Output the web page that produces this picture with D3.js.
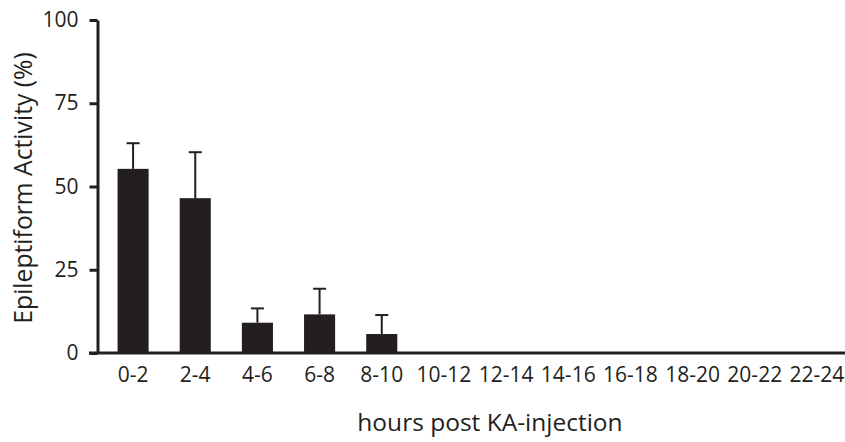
<!DOCTYPE html>
<html>
<head>
<meta charset="utf-8">
<script src="https://cdn.jsdelivr.net/npm/d3@7"></script>
<style>
  html, body { margin: 0; padding: 0; background: #fff; }
  svg { display: block; }
  text { font-family: "Open Sans", sans-serif; fill: #231f20; }
</style>
</head>
<body>
<svg id="chart" width="845" height="442"></svg>
<script>
// Time windows after KA injection (hours)
const categories = ["0-2", "2-4", "4-6", "6-8", "8-10", "10-12", "12-14", "14-16", "16-18", "18-20", "20-22", "22-24"];
// Mean epileptiform activity (%) per window
const meanValues = [55.3, 46.5, 9.1, 11.6, 5.7, 0, 0, 0, 0, 0, 0, 0];
// Upper end of the error bar (mean + SEM)
const errorTops = [63, 60.3, 13.4, 19.3, 11.4, 0, 0, 0, 0, 0, 0, 0];
const yTicks = [0, 25, 50, 75, 100];

const ink = "#231f20";
const svg = d3.select("#chart");

const x = d3.scaleBand()
  .domain(categories)
  .range([102, 848])
  .paddingInner(0.5)
  .paddingOuter(0.25);

const y = d3.scaleLinear().domain([0, 100]).range([353, 20]);

// Bars
svg.append("g").selectAll("rect")
  .data(categories)
  .join("rect")
  .attr("x", d => x(d))
  .attr("width", x.bandwidth())
  .attr("y", (d, i) => y(meanValues[i]))
  .attr("height", (d, i) => y(0) - y(meanValues[i]))
  .attr("fill", ink);

// Error bars (upper whisker only)
const err = svg.append("g")
  .attr("stroke", ink)
  .attr("stroke-width", 2)
  .selectAll("g")
  .data(categories.filter((d, i) => errorTops[i] > meanValues[i]))
  .join("g");

err.append("line")
  .attr("x1", d => x(d) + x.bandwidth() / 2)
  .attr("x2", d => x(d) + x.bandwidth() / 2)
  .attr("y1", d => y(meanValues[categories.indexOf(d)]))
  .attr("y2", d => y(errorTops[categories.indexOf(d)]));

err.append("line")
  .attr("x1", d => x(d) + x.bandwidth() / 2 - 6.5)
  .attr("x2", d => x(d) + x.bandwidth() / 2 + 6.5)
  .attr("y1", d => y(errorTops[categories.indexOf(d)]))
  .attr("y2", d => y(errorTops[categories.indexOf(d)]));

// Y axis
const yAxis = svg.append("g")
  .attr("transform", "translate(97.5,0)")
  .call(d3.axisLeft(y).tickValues(yTicks).tickSize(8).tickPadding(11).tickSizeOuter(0));
yAxis.select(".domain").attr("stroke", ink).attr("stroke-width", 3);
yAxis.selectAll(".tick line").attr("stroke", ink).attr("stroke-width", 3);
yAxis.selectAll(".tick text")
  .attr("font-size", 21)
  .attr("font-family", "Open Sans, sans-serif")
  .attr("fill", ink);

// X axis: baseline and category labels
const xAxis = svg.append("g")
  .attr("transform", `translate(0,${y(0)})`)
  .call(d3.axisBottom(x).tickSize(0).tickPadding(14));
xAxis.select(".domain").remove();
xAxis.append("line")
  .attr("x1", 89).attr("x2", 845)
  .attr("stroke", ink).attr("stroke-width", 3);
xAxis.selectAll(".tick text")
  .attr("font-size", 21)
  .attr("font-family", "Open Sans, sans-serif")
  .attr("fill", ink);

// Axis titles
svg.append("text")
  .attr("x", 490)
  .attr("y", 431)
  .attr("text-anchor", "middle")
  .attr("font-size", 24.5)
  .text("hours post KA-injection");

svg.append("text")
  .attr("transform", "translate(32,188) rotate(-90)")
  .attr("text-anchor", "middle")
  .attr("font-size", 24.7)
  .text("Epileptiform Activity (%)");
</script>
</body>
</html>
